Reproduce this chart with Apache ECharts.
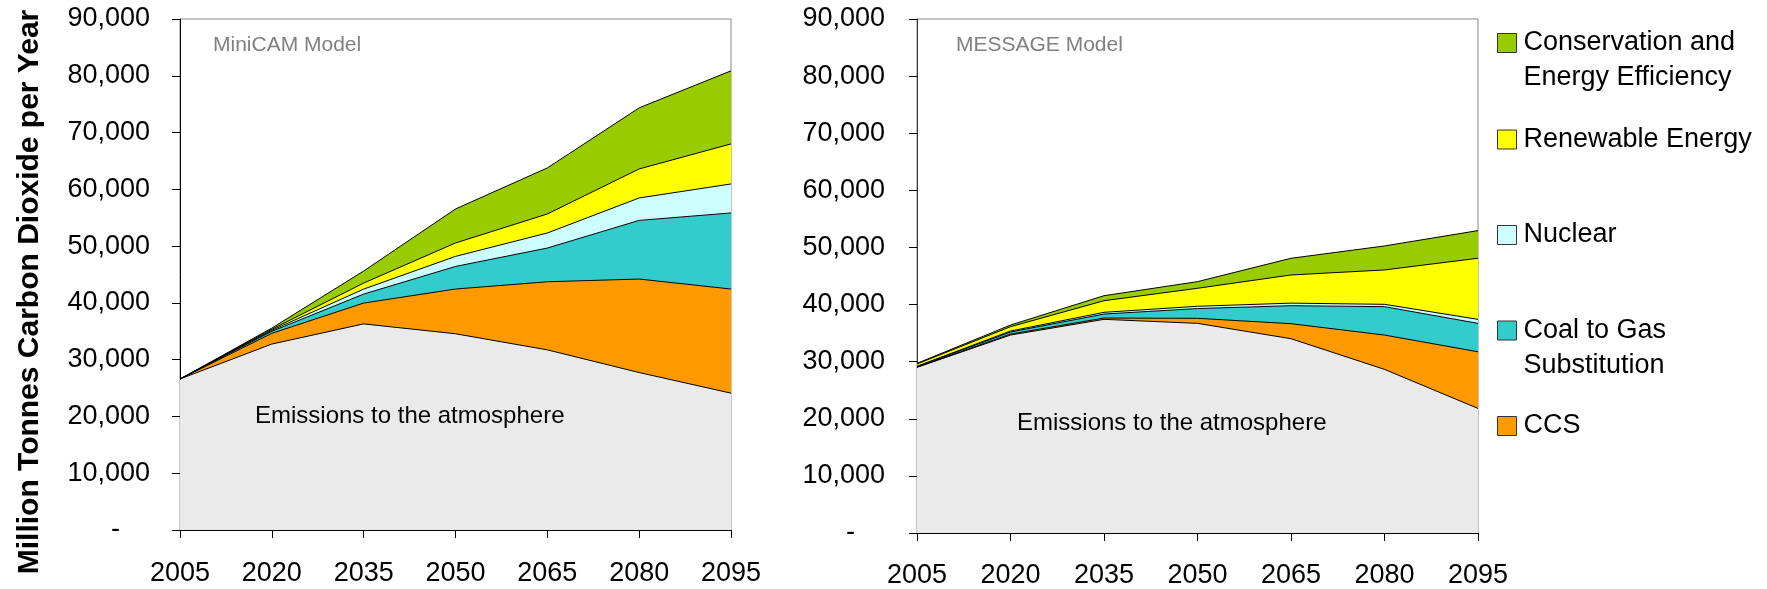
<!DOCTYPE html>
<html><head><meta charset="utf-8">
<script src="https://cdn.jsdelivr.net/npm/echarts@6/dist/echarts.min.js"></script>
<style>html,body{margin:0;padding:0;background:#fff}#c{width:1767px;height:589px}</style>
</head><body><div id="c"></div>
<script>
const years = ['2005', '2020', '2035', '2050', '2065', '2080', '2095'];
const yTickLabels = ['-    ', '10,000', '20,000', '30,000', '40,000', '50,000', '60,000', '70,000', '80,000', '90,000'];

// MiniCAM model (million tonnes CO2 per year), stacked layers bottom-up
const miniEmissions    = [26600, 32750, 36300, 34560, 31730, 27730, 24100];
const miniCCS          = [0, 1890, 3670, 7880, 11990, 16470, 18340];
const miniCoalToGas    = [0, 360, 1580, 3980, 5940, 10330, 13400];
const miniNuclear      = [0, 170, 880, 1770, 2650, 3950, 5110];
const miniRenewable    = [0, 180, 1060, 2360, 3350, 5110, 7050];
const miniConservation = [0, 210, 2120, 5990, 8110, 10760, 12870];

// MESSAGE model
const msgEmissions    = [29000, 34660, 37410, 36710, 34020, 28650, 21810];
const msgCCS          = [50, 170, 230, 880, 2630, 6010, 9920];
const msgCoalToGas    = [100, 360, 700, 1710, 3150, 4970, 4980];
const msgNuclear      = [50, 170, 300, 400, 450, 410, 700];
const msgRenewable    = [400, 760, 2030, 3150, 4930, 6020, 10700];
const msgConservation = [100, 290, 880, 1160, 2920, 4200, 4840];

const seriesNames = ['Emissions to the atmosphere', 'CCS', 'Coal to Gas Substitution', 'Nuclear', 'Renewable Energy', 'Conservation and Energy Efficiency'];
const seriesColors = ['#eaeaea', '#ff9900', '#33cccc', '#ccffff', '#ffff00', '#99cc00'];
const legendText = {
  'Conservation and Energy Efficiency': '\nConservation and\nEnergy Efficiency',
  'Renewable Energy': 'Renewable Energy',
  'Nuclear': 'Nuclear',
  'Coal to Gas Substitution': '\nCoal to Gas\nSubstitution',
  'CCS': 'CCS'
};

const FONT = 'Liberation Sans';
const chart = echarts.init(document.getElementById('c'));

function makeSeries(dataSets, idx, stack) {
  return dataSets.map((d, i) => ({
    name: seriesNames[i],
    type: 'line',
    stack: stack,
    xAxisIndex: idx, yAxisIndex: idx,
    data: d,
    symbol: 'none',
    showSymbol: false,
    lineStyle: { color: '#000', width: 1 },
    areaStyle: { color: seriesColors[i], opacity: 1 },
    itemStyle: { color: seriesColors[i] },
    emphasis: { disabled: true },
    z: 2
  }));
}

function xAxis(idx, margin) {
  return {
    type: 'category', gridIndex: idx, data: years, boundaryGap: false,
    axisLine: { lineStyle: { color: '#000', width: 1 } },
    axisTick: { show: true, length: 8, lineStyle: { color: '#000' } },
    axisLabel: { fontSize: 27, color: '#000', fontFamily: FONT, margin: margin },
    splitLine: { show: false }
  };
}
function yAxis(idx, margin, lineColor) {
  return {
    type: 'value', gridIndex: idx, min: 0, max: 90000, interval: 10000,
    axisLine: { show: true, lineStyle: { color: lineColor, width: 1 } },
    axisTick: { show: true, length: 8, lineStyle: { color: '#000' } },
    axisLabel: { fontSize: 27, color: '#000', fontFamily: FONT, margin: margin,
      formatter: v => yTickLabels[Math.round(v / 10000)] },
    splitLine: { show: false }
  };
}

const legendTops = { 'Conservation and Energy Efficiency': -9.5, 'Renewable Energy': 122, 'Nuclear': 217.5, 'Coal to Gas Substitution': 278, 'CCS': 408.5 };
const legends = Object.keys(legendTops).map(n => ({
  data: [n],
  left: 1497, top: legendTops[n],
  padding: 0,
  icon: 'rect', itemWidth: 19, itemHeight: 19,
  itemStyle: { borderColor: '#333', borderWidth: 1 },
  selectedMode: false,
  formatter: name => legendText[name],
  textStyle: { fontSize: 27, color: '#000', fontFamily: FONT, lineHeight: 35, padding: [0, 0, 0, 2] }
}));

chart.setOption({
  animation: false,
  textStyle: { fontFamily: FONT },
  grid: [
    { left: 180, top: 19, width: 551, height: 511, show: true, borderColor: '#888', borderWidth: 1, backgroundColor: 'transparent' },
    { left: 917, top: 19, width: 561, height: 514, show: true, borderColor: '#888', borderWidth: 1, backgroundColor: 'transparent' }
  ],
  xAxis: [xAxis(0, 30), xAxis(1, 29)],
  yAxis: [yAxis(0, 30, '#000'), yAxis(1, 32, '#333')],
  legend: legends,
  series: makeSeries([miniEmissions, miniCCS, miniCoalToGas, miniNuclear, miniRenewable, miniConservation], 0, 'mini')
    .concat(makeSeries([msgEmissions, msgCCS, msgCoalToGas, msgNuclear, msgRenewable, msgConservation], 1, 'msg')),
  graphic: [
    { type: 'text', x: 30, y: 292, rotation: Math.PI / 2, z: 10,
      style: { text: 'Million Tonnes Carbon Dioxide per Year', font: 'bold 30px "Liberation Sans"', fill: '#000', align: 'center', verticalAlign: 'middle' } },
    { type: 'text', x: 213, y: 45, z: 10,
      style: { text: 'MiniCAM Model', font: '21px "Liberation Sans"', fill: '#808080', align: 'left', verticalAlign: 'middle' } },
    { type: 'text', x: 956, y: 45, z: 10,
      style: { text: 'MESSAGE Model', font: '21px "Liberation Sans"', fill: '#808080', align: 'left', verticalAlign: 'middle' } },
    { type: 'text', x: 255, y: 416, z: 10,
      style: { text: 'Emissions to the atmosphere', font: '24px "Liberation Sans"', fill: '#000', align: 'left', verticalAlign: 'middle' } },
    { type: 'text', x: 1017, y: 423, z: 10,
      style: { text: 'Emissions to the atmosphere', font: '24px "Liberation Sans"', fill: '#000', align: 'left', verticalAlign: 'middle' } }
  ]
});
</script></body></html>
